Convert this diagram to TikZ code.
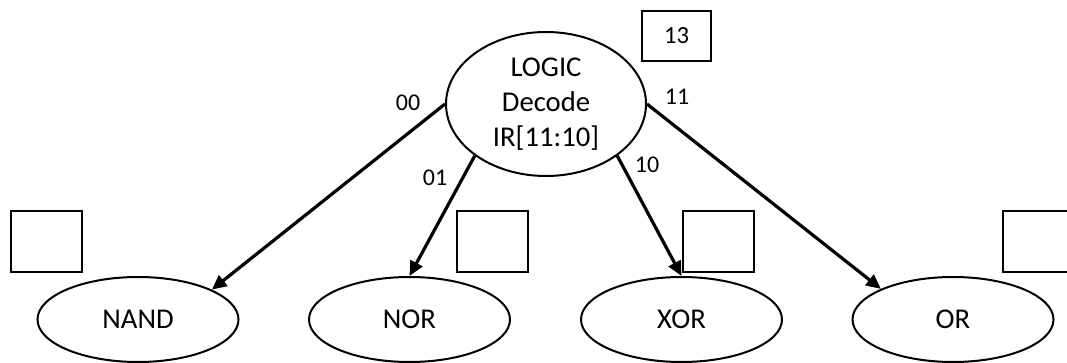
\documentclass[tikz,border=0pt]{standalone}
\usepackage{fontspec}
\setmainfont{Carlito}
\usetikzlibrary{shapes.geometric,arrows.meta}
\tikzset{
  state/.style={ellipse,draw,line width=1.5pt,inner sep=0pt,font=\fontsize{21.5}{26}\selectfont,align=center},
  leaf/.style={state,minimum width=150.75pt,minimum height=63.75pt},
  emptybox/.style={rectangle,draw,line width=1.5pt,minimum width=53.25pt,minimum height=45.75pt,inner sep=0pt},
  numbox/.style={rectangle,draw,line width=1.5pt,minimum width=51.75pt,minimum height=37.5pt,inner sep=0pt,font=\fontsize{18.5}{20}\selectfont},
  lbl/.style={font=\fontsize{18}{20}\selectfont,inner sep=0pt},
  arr/.style={-{Triangle[length=11pt,width=10pt]},line width=2.4pt}
}
\begin{document}
\begin{tikzpicture}[x=0.75pt,y=-0.75pt]
\useasboundingbox (0,0) rectangle (1067,363);
\clip (0,0) rectangle (1067,363);
\node[state,minimum width=150pt,minimum height=108pt] (top) at (546,104) {LOGIC\\Decode\\IR[11:10]};
\node[numbox] (n13) at (676.5,36) {13};
\node[leaf] (nand) at (138,319.5) {NAND};
\node[leaf] (nor) at (409.5,319.5) {NOR};
\node[leaf] (xor) at (681.5,319.5) {XOR};
\node[leaf] (or) at (953,319.5) {OR};
\node[emptybox] (b1) at (46,241.5) {};
\node[emptybox] (b2) at (492.5,241.5) {};
\node[emptybox] (b3) at (718.5,241.5) {};
\node[emptybox] (b4) at (1038.5,241.5) {};
\draw[arr] (top.west) -- (nand.22);
\draw[arr] (top.216.7) -- (nor.north);
\draw[arr] (top.324.3) -- (xor.north);
\draw[arr] (top.east) -- (or.157.4);
\node[lbl] (l00) at (408,103) {00};
\node[lbl] (l11) at (677,97) {11};
\node[lbl] (l01) at (435,178) {01};
\node[lbl] (l10) at (647,165) {10};
\end{tikzpicture}
\end{document}
